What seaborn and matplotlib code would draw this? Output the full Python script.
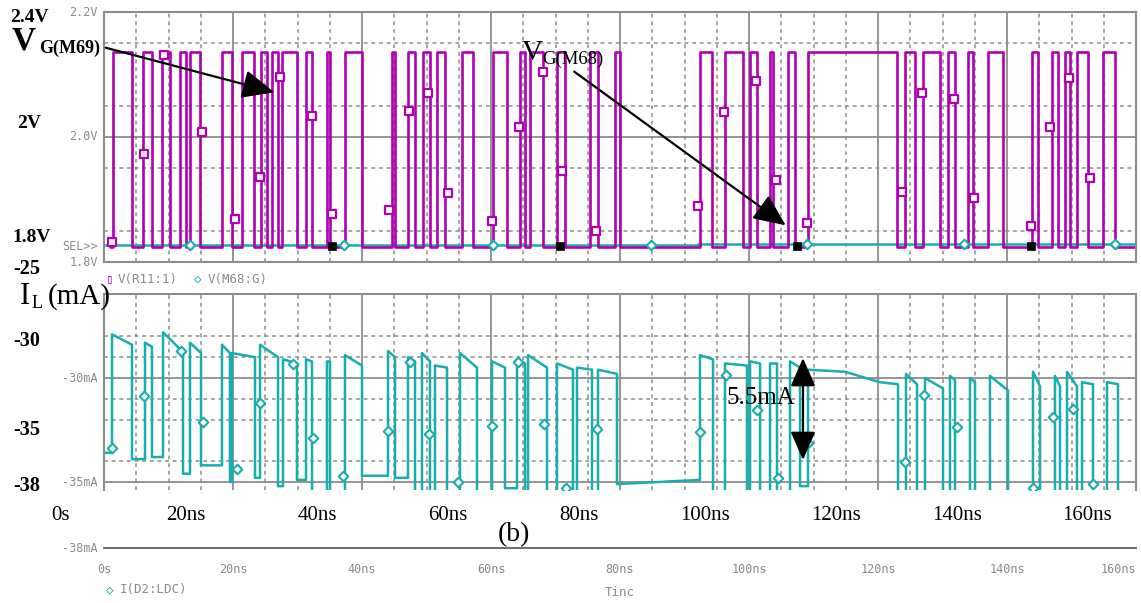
import matplotlib
matplotlib.use("Agg")
import matplotlib.pyplot as plt
import seaborn as sns
import pandas as pd
from matplotlib.patches import FancyArrowPatch

# ---------------- data ----------------
time_ticks = [0, 20, 40, 60, 80, 100, 120, 140, 160]
time_tick_labels = ["0s", "20ns", "40ns", "60ns", "80ns", "100ns", "120ns", "140ns", "160ns"]
time_minor = [5, 10, 15, 25, 30, 35, 45, 50, 55, 65, 70, 75, 85, 90, 95,
              105, 110, 115, 125, 130, 135, 145, 150, 155]
v_major_grid = [2.0]
v_minor_grid = [1.85, 1.95, 2.05, 2.15]
i_major_grid = [-30, -35]
i_minor_grid = [-34, -32, -31, -29, -28]

# V(R11:1) gate pulses (ns)
v_high = 2.136
v_low = 1.8245
mag_rise = [1.40, 6.05, 8.99, 11.78, 13.33, 18.29, 21.40, 24.34, 26.05, 27.60,
            31.32, 34.57, 37.36, 44.65, 47.13, 49.46, 51.63, 55.50, 60.31, 64.50,
            66.05, 70.23, 75.35, 79.22, 92.40, 96.28, 100.16, 103.26, 106.05, 109.15,
            124.19, 126.98, 130.85, 133.95, 137.05, 143.88, 146.98, 148.99, 150.85, 154.88]
mag_fall = [4.34, 7.44, 10.23, 12.71, 14.88, 19.84, 23.26, 25.27, 26.98, 29.92,
            32.25, 35.04, 40.00, 45.12, 48.22, 50.54, 52.87, 57.21, 62.48, 65.27,
            68.06, 71.47, 76.59, 80.00, 94.26, 99.07, 101.24, 103.72, 107.13, 122.95,
            125.74, 129.61, 131.94, 134.73, 139.38, 144.81, 147.91, 149.77, 152.56, 156.74]
sq_t = [1.24, 6.20, 9.30, 15.19, 20.31, 24.19, 27.29, 32.25, 35.35, 44.19, 47.29,
        50.23, 53.33, 60.16, 64.34, 68.06, 71.01, 76.28, 92.09, 96.12, 101.09,
        104.19, 108.99, 123.72, 126.82, 131.78, 134.88, 143.72, 146.67, 149.61, 152.87]
sq_v = [1.832, 1.973, 2.131, 2.008, 1.869, 1.936, 2.096, 2.034, 1.877, 1.883, 2.042,
        2.070, 1.910, 1.866, 2.016, 2.104, 1.946, 1.850, 1.890, 2.040, 2.090,
        1.931, 1.862, 1.912, 2.070, 2.061, 1.902, 1.858, 2.016, 2.094, 1.934]

# V(M68:G)
vg68_t = [0.0, 92.1, 92.1, 160.0]
vg68_v = [1.8265, 1.8265, 1.8295, 1.8295]
vg68_mark_t = [13.33, 37.21, 60.31, 84.81, 108.99, 133.33, 156.74]
vg68_mark_v = [1.8265, 1.8265, 1.8265, 1.8265, 1.8295, 1.8295, 1.8295]
cursor_t = [35.35, 70.70, 107.44, 143.72]
cursor_v = [1.826, 1.826, 1.826, 1.826]

# I(D2:LDC) current (mA)
cur_start = -33.6
cur_rise = [1.24, 6.36, 9.15, 13.33, 18.29, 19.84, 24.19, 27.75, 31.32, 34.57,
            37.36, 44.03, 47.13, 49.30, 51.32, 55.19, 60.16, 64.03, 65.74, 70.23,
            73.33, 76.59, 92.40, 96.28, 100.16, 103.26, 106.36, 109.15, 124.34, 127.29,
            131.16, 134.26, 137.36, 144.03, 147.44, 149.30, 151.63, 155.50]
cur_fall = [4.34, 7.44, 12.25, 15.04, 19.53, 23.41, 26.98, 29.92, 32.25, 35.04,
            40.00, 45.12, 48.22, 50.54, 53.18, 57.83, 62.17, 65.27, 68.68, 72.71,
            75.66, 79.53, 94.42, 99.69, 101.71, 104.34, 107.91, 123.10, 126.05, 130.08,
            131.94, 135.04, 140.16, 145.12, 148.22, 150.85, 153.33, 157.21]
cur_peak = [-27.9, -28.3, -27.8, -28.3, -28.4, -28.8, -28.4, -29.1, -29.1, -29.2,
            -28.9, -28.7, -29.0, -28.8, -29.4, -28.8, -29.2, -29.1, -28.9, -29.3,
            -29.5, -29.6, -28.9, -29.3, -29.2, -29.3, -29.2, -29.6, -29.8, -30.0,
            -29.9, -30.0, -29.9, -29.7, -29.9, -29.7, -30.2, -30.2]
cur_end = [-28.4, -28.5, -28.75, -28.8, -28.8, -29.0, -29.0, -29.3, -29.2, -29.2,
           -29.4, -29.0, -29.2, -29.2, -29.5, -29.5, -29.5, -29.3, -29.5, -29.6,
           -29.6, -29.8, -29.1, -29.4, -29.3, -29.3, -29.5, -30.3, -30.3, -30.5,
           -30.1, -30.2, -30.6, -30.4, -30.4, -30.4, -30.3, -30.3]
cur_pre = [-33.6, -33.9, -33.8, -34.6, -34.2, -35.0, -34.8, -35.2, -34.9, -36.0,
           -36.0, -34.7, -34.8, -36.0, -36.0, -35.5, -36.0, -35.3, -36.0, -35.5,
           -36.0, -36.0, -34.9, -36.0, -35.5, -36.0, -36.0, -35.2, -37.0, -37.0,
           -37.0, -37.0, -37.0, -37.0, -37.0, -37.0, -37.0, -37.0]
cur_low = [-33.9, -33.8, -34.6, -34.2, -35.0, -34.8, -35.2, -34.9, -36.0, -36.0,
           -34.7, -34.8, -36.0, -36.0, -35.5, -36.0, -35.3, -36.0, -35.5, -36.0,
           -36.0, -35.1, -36.0, -35.5, -36.0, -36.0, -35.2, -37.0, -37.0, -37.0,
           -37.0, -37.0, -37.0, -37.0, -37.0, -37.0, -37.0, -37.0]
cur_knee_t = [114.88, 120.31]
cur_knee_v = [-29.7, -30.2]
dm_t = [1.24, 6.20, 11.94, 15.35, 20.62, 24.19, 29.30, 32.40, 37.05, 44.03, 47.44,
        50.39, 54.88, 60.16, 64.19, 68.22, 71.63, 76.43, 92.40, 96.43, 101.24,
        104.50, 109.15, 124.19, 127.13, 132.25, 144.03, 147.13, 150.23, 153.33]
dm_v = [-33.37, -30.87, -28.70, -32.12, -34.38, -31.20, -29.33, -32.88, -34.71, -32.55,
        -29.23, -32.69, -35.00, -32.31, -29.23, -32.21, -35.29, -32.45, -32.60, -29.86,
        -31.54, -34.81, -33.13, -34.04, -30.82, -32.36, -35.29, -31.88, -31.49, -35.10]

# ---------------- build traces ----------------
mt, mv = [1.0], [v_low]
for r, f in zip(mag_rise, mag_fall):
    mt += [r, r, f, f]
    mv += [v_low, v_high, v_high, v_low]
mt.append(160.0); mv.append(v_low)
mag_df = pd.DataFrame({"t": mt, "v": mv})

pts = [(0.0, cur_start)]
for r, f, pre, pk, en, lo in zip(cur_rise, cur_fall, cur_pre, cur_peak, cur_end, cur_low):
    pts += [(r, pre), (r, pk), (f, en), (f, lo)]
pts.append((160.0, cur_low[-1]))
pts += list(zip(cur_knee_t, cur_knee_v))
pts.sort(key=lambda p: p[0])
cur_df = pd.DataFrame(pts, columns=["t", "i"])

# ---------------- figure ----------------
sns.set_theme(style="white")
plt.rcParams['font.family'] = ['DejaVu Sans']
W, H = 1141, 603
fig = plt.figure(figsize=(W / 100, H / 100), dpi=100)
fig.patch.set_facecolor("white")

MAG = "#B000B4"
TEAL = "#19ADAD"
GRID = "#8C8C8C"
PS = "#8A8A8A"
SERIF = "Liberation Serif"
MONO = "DejaVu Sans Mono"


def fbox(x0, y0, x1, y1):
    return [x0 / W, 1 - y1 / H, (x1 - x0) / W, (y1 - y0) / H]


def ptext(x, y, s, **kw):
    fig.text(x / W, 1 - y / H, s, **kw)


def style_panel(ax, ylim, major_y, minor_y):
    ax.set_xlim(0, 160)
    ax.set_ylim(*ylim)
    ax.set_xticks(time_ticks)
    ax.set_xticks(time_minor, minor=True)
    ax.set_yticks(major_y)
    ax.set_yticks(minor_y, minor=True)
    ax.tick_params(which="both", length=0, labelbottom=False, labelleft=False)
    ax.grid(which="major", color=GRID, lw=1.3, ls="-")
    ax.grid(which="minor", color=GRID, lw=1.1, ls=(0, (2.5, 2.5)))
    ax.set_axisbelow(True)
    for s in ax.spines.values():
        s.set_color(GRID)
        s.set_linewidth(1.5)
    ax.set_xlabel("")
    ax.set_ylabel("")


# top panel: gate voltages
ax1 = fig.add_axes(fbox(104, 12, 1136, 262))
sns.lineplot(x=vg68_t, y=vg68_v, sort=False, estimator=None, color=TEAL, lw=1.8, ax=ax1)
sns.lineplot(data=mag_df, x="t", y="v", sort=False, estimator=None, color=MAG, lw=1.9, ax=ax1)
sns.scatterplot(x=sq_t, y=sq_v, marker="s", s=36, color="white", edgecolor=MAG,
                linewidth=1.6, ax=ax1, zorder=5)
sns.scatterplot(x=vg68_mark_t, y=vg68_mark_v, marker="D", s=24, color="white", edgecolor=TEAL,
                linewidth=1.5, ax=ax1, zorder=5)
sns.scatterplot(x=cursor_t, y=cursor_v, marker="s", s=34, color="black", edgecolor="black",
                ax=ax1, zorder=6)
style_panel(ax1, (1.8, 2.2), v_major_grid, v_minor_grid)

# bottom panel: current
ax2 = fig.add_axes(fbox(104, 294, 1136, 490))
sns.lineplot(data=cur_df, x="t", y="i", sort=False, estimator=None, color=TEAL, lw=1.8, ax=ax2)
sns.scatterplot(x=dm_t, y=dm_v, marker="D", s=24, color="white", edgecolor=TEAL,
                linewidth=1.5, ax=ax2, zorder=5)
style_panel(ax2, (-35.385, -25.96), i_major_grid, i_minor_grid)
ax2.spines["bottom"].set_visible(False)

# PSpice time axis strip
ax3 = fig.add_axes(fbox(104, 547, 1136, 548))
ax3.set_xlim(0, 160)
ax3.set_ylim(0, 1)
ax3.patch.set_visible(False)
for k in ["top", "left", "right"]:
    ax3.spines[k].set_visible(False)
ax3.spines["bottom"].set_color("#6E6E6E")
ax3.spines["bottom"].set_linewidth(1.4)
ax3.set_yticks([])
ax3.set_xticks(time_ticks)
ax3.set_xticks(time_minor, minor=True)
ax3.set_xticklabels(time_tick_labels, fontfamily=MONO, fontsize=8.5, color=PS)
ax3.get_xticklabels()[-1].set_horizontalalignment("right")
ax3.tick_params(axis="x", which="major", direction="inout", length=10, width=1.3,
                color="#6E6E6E", pad=6)
ax3.tick_params(axis="x", which="minor", direction="in", length=3, width=1.0, color="#6E6E6E")

# ---------- PSpice small labels ----------
for y, s in [(13, "2.2V"), (137, "2.0V"), (247, "SEL>>"), (262, "1.8V"),
             (378, "-30mA"), (482, "-35mA"), (548, "-38mA")]:
    ptext(98, y, s, ha="right", va="center", fontfamily=MONO, fontsize=8.5, color=PS)
ptext(106, 279, "\u25AF", ha="left", va="center", fontfamily=MONO, fontsize=9, color=MAG)
ptext(118, 279, "V(R11:1)", ha="left", va="center", fontfamily=MONO, fontsize=9, color=PS)
ptext(194, 279, "\u25C7", ha="left", va="center", fontfamily=MONO, fontsize=9, color=TEAL)
ptext(208, 279, "V(M68:G)", ha="left", va="center", fontfamily=MONO, fontsize=9, color=PS)
ptext(106, 590, "\u25C7", ha="left", va="center", fontfamily=MONO, fontsize=9, color=TEAL)
ptext(120, 590, "I(D2:LDC)", ha="left", va="center", fontfamily=MONO, fontsize=9, color=PS)
ptext(605, 593, "Tinc", ha="left", va="center", fontfamily=MONO, fontsize=9, color=PS)

# ---------- overlaid annotation labels ----------
bold = dict(fontfamily=SERIF, fontweight="bold", color="black")
reg = dict(fontfamily=SERIF, color="black")
ptext(10, 17, "2.4V", ha="left", va="center", fontsize=14, **bold)
ptext(17, 124, "2V", ha="left", va="center", fontsize=14, **bold)
ptext(12, 238, "1.8V", ha="left", va="center", fontsize=14, **bold)
ptext(13, 269, "-25", ha="left", va="center", fontsize=14.5, **bold)
ptext(13, 341, "-30", ha="left", va="center", fontsize=14.5, **bold)
ptext(13, 430, "-35", ha="left", va="center", fontsize=14.5, **bold)
ptext(13, 486, "-38", ha="left", va="center", fontsize=14.5, **bold)

ptext(12, 50, "V", ha="left", va="baseline", fontsize=24, **bold)
ptext(39, 53, "G(M69)", ha="left", va="baseline", fontsize=13, **bold)
ptext(522, 60, "V", ha="left", va="baseline", fontsize=21, **reg)
ptext(542, 64, "G(M68)", ha="left", va="baseline", fontsize=13.5, **reg)

ptext(20, 304, "I", ha="left", va="baseline", fontsize=22, **reg)
ptext(32, 308, "L", ha="left", va="baseline", fontsize=13, **reg)
ptext(48, 304, "(mA)", ha="left", va="baseline", fontsize=21, **reg)

for xc, s in zip([61, 186, 317, 448, 579, 705, 836, 957, 1087], time_tick_labels):
    ptext(xc, 516, s, ha="center", va="center", fontsize=15, **reg)
ptext(514, 535, "(b)", ha="center", va="center", fontsize=20, **reg)
ptext(761, 398, "5.5mA", ha="center", va="center", fontsize=18, **reg)

# arrows
arr = dict(transform=fig.transFigure, color="black", lw=1.6, mutation_scale=22)
fig.add_artist(FancyArrowPatch((103 / W, 1 - 47 / H), (277 / W, 1 - 93 / H),
                               arrowstyle="-|>,head_length=0.9,head_width=0.4", **arr))
fig.add_artist(FancyArrowPatch((572 / W, 1 - 70 / H), (788 / W, 1 - 227 / H),
                               arrowstyle="-|>,head_length=0.9,head_width=0.4", **arr))
fig.add_artist(FancyArrowPatch((803 / W, 1 - 358 / H), (803 / W, 1 - 460 / H),
                               arrowstyle="<|-|>,head_length=0.8,head_width=0.35",
                               shrinkA=0, shrinkB=0, **arr))

fig.savefig("out.png", dpi=100, facecolor="white")
